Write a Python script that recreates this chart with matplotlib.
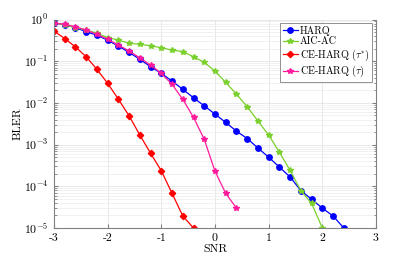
import numpy as np
import matplotlib
matplotlib.use('Agg')
import matplotlib.pyplot as plt
from matplotlib.ticker import LogLocator, NullFormatter

plt.rcParams['font.family'] = 'serif'
plt.rcParams['font.serif'] = ['cmr10', 'DejaVu Serif']
plt.rcParams['mathtext.fontset'] = 'cm'
plt.rcParams['axes.unicode_minus'] = False
plt.rcParams['axes.formatter.use_mathtext'] = True

# data
snr_harq = [-3.0, -2.8, -2.6, -2.4, -2.2, -2.0, -1.8, -1.6, -1.4, -1.2, -1.0, -0.8, -0.6, -0.4,
            -0.2, 0.0, 0.2, 0.4, 0.6, 0.8, 1.0, 1.2, 1.4, 1.6, 1.8, 2.0, 2.2, 2.4]
bler_harq = [0.84, 0.74, 0.64, 0.51, 0.42, 0.32, 0.23, 0.163, 0.111, 0.074, 0.051, 0.0335, 0.0212,
             0.0133, 0.0085, 0.0054, 0.0034, 0.0021, 0.0014, 8.3e-4, 5.0e-4, 2.9e-4, 1.67e-4,
             7.9e-5, 4.9e-5, 3.0e-5, 1.95e-5, 1.0e-5]

snr_aic = [-3.0, -2.8, -2.6, -2.4, -2.2, -2.0, -1.8, -1.6, -1.4, -1.2, -1.0, -0.8, -0.6, -0.4,
           -0.2, 0.0, 0.2, 0.4, 0.6, 0.8, 1.0, 1.2, 1.4, 1.6, 1.8, 2.0]
bler_aic = [0.84, 0.74, 0.64, 0.56, 0.47, 0.37, 0.32, 0.27, 0.254, 0.235, 0.21, 0.185, 0.17,
            0.128, 0.094, 0.058, 0.031, 0.0163, 0.0081, 0.0037, 0.0017, 6.6e-4, 2.4e-4, 7.9e-5,
            3.9e-5, 1.0e-5]

snr_ce_opt = [-3.0, -2.8, -2.6, -2.4, -2.2, -2.0, -1.8, -1.6, -1.4, -1.2, -1.0, -0.8, -0.6, -0.4]
bler_ce_opt = [0.53, 0.35, 0.22, 0.128, 0.064, 0.0295, 0.0123, 0.0049, 0.0017, 6.2e-4, 2.36e-4,
               6.8e-5, 1.95e-5, 1.0e-5]

snr_ce = [-3.0, -2.8, -2.6, -2.4, -2.2, -2.0, -1.8, -1.6, -1.4, -1.2, -1.0, -0.8, -0.6, -0.4,
          -0.2, 0.0, 0.2, 0.4]
bler_ce = [0.81, 0.77, 0.67, 0.56, 0.44, 0.335, 0.245, 0.176, 0.12, 0.081, 0.051, 0.028, 0.0122,
           0.0045, 0.00134, 2.3e-4, 6.8e-5, 3.0e-5]

labels = ['HARQ', 'AIC-AC', r'CE-HARQ ($\tau^{*}$)', r'CE-HARQ ($\tau$)']

fig = plt.figure(figsize=(4.15, 2.6), dpi=100)
ax = fig.add_axes([0.130, 0.123, 0.776, 0.802])

ax.plot(snr_harq, bler_harq, '-o', color='#0000ff', lw=0.9, ms=3.9, label=labels[0])
ax.plot(snr_aic, bler_aic, '-*', color='#7ad02c', lw=0.9, ms=4.2, label=labels[1])
ax.plot(snr_ce_opt, bler_ce_opt, '-D', color='#ff0000', lw=0.9, ms=3.2, label=labels[2])
ax.plot(snr_ce, bler_ce, '-*', color='#ff1a9c', lw=0.9, ms=4.2, label=labels[3])

ax.set_yscale('log')
ax.set_xlim(-3, 3)
ax.set_ylim(1e-5, 1)
ax.set_xticks([-3, -2, -1, 0, 1, 2, 3])
ax.set_xticklabels(['-3', '-2', '-1', '0', '1', '2', '3'])
ax.yaxis.set_major_locator(LogLocator(base=10, numticks=10))
ax.yaxis.set_minor_locator(LogLocator(base=10, subs=np.arange(2, 10), numticks=10))
ax.yaxis.set_minor_formatter(NullFormatter())

ax.grid(True, which='major', color='#e4e4e4', lw=0.6)
ax.grid(True, which='minor', axis='y', color='#ececec', lw=0.5)
ax.set_axisbelow(True)

for s in ax.spines.values():
    s.set_color('#808080')
    s.set_linewidth(0.8)
ax.spines['top'].set_visible(False)
ax.tick_params(which='both', direction='in', right=True, top=False, color='#808080',
               labelsize=8.5, pad=4)
ax.tick_params(which='major', length=3)
ax.tick_params(which='minor', length=1.8)

ax.set_xlabel('SNR', fontsize=8.5, labelpad=1)
ax.set_ylabel('BLER', fontsize=8.5, labelpad=1)

leg = ax.legend(loc='upper right', fontsize=7.3, handlelength=1.5, handletextpad=0.2,
                borderpad=0.25, labelspacing=0.12, fancybox=False, framealpha=1,
                bbox_to_anchor=(0.988, 0.983), borderaxespad=0)
leg.get_frame().set_edgecolor('#808080')
leg.get_frame().set_linewidth(0.6)

fig.savefig('out.png', dpi=100)
